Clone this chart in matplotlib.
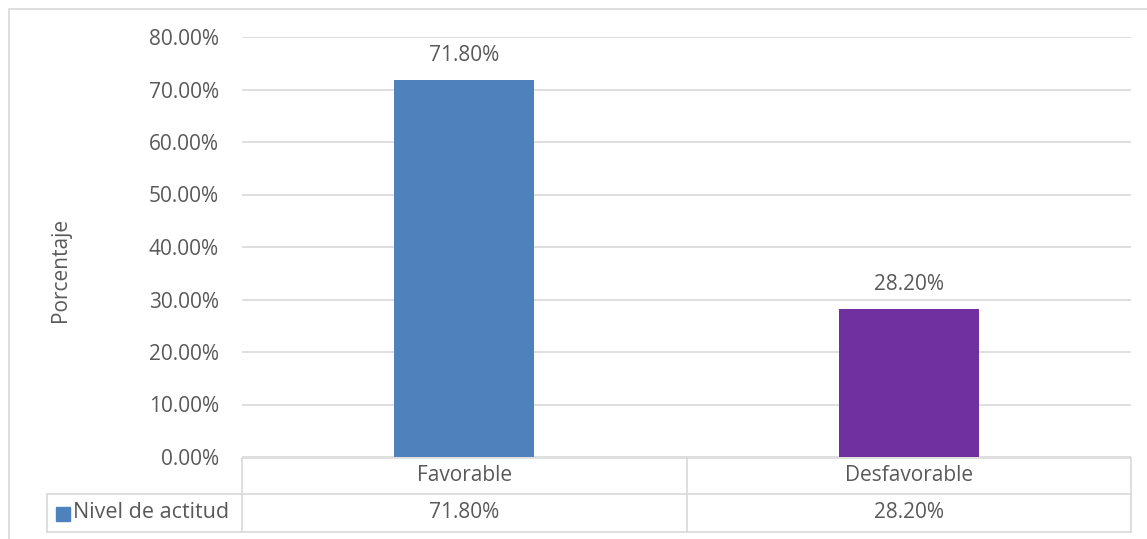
import matplotlib
matplotlib.use("Agg")
import matplotlib.pyplot as plt
from matplotlib.patches import Rectangle
from matplotlib.lines import Line2D
import matplotlib.transforms as mtransforms

categories = ["Favorable", "Desfavorable"]
values = [71.80, 28.20]
series_name = "Nivel de actitud"
bar_colors = ["#4F81BD", "#7030A0"]
yticks = [0, 10, 20, 30, 40, 50, 60, 70, 80]

W, H = 1147, 539
plt.rcParams['font.family'] = ['Open Sans', 'DejaVu Sans']
TXT = "#595959"
GRID = "#D9D9D9"
FS = 15

fig = plt.figure(figsize=(W / 100, H / 100), dpi=100)
fig.patch.set_facecolor("white")

def fx(px):
    return px / W

def fy(py):
    return 1 - py / H

# outer chart border
fig.add_artist(Rectangle((fx(8.5), fy(560)), fx(1160) - fx(8.5), fy(8.5) - fy(560),
                         transform=fig.transFigure, fill=False, edgecolor=GRID, lw=1.2))

ax = fig.add_axes([fx(242), fy(457), fx(1131) - fx(242), fy(37) - fy(457)])
x = list(range(len(categories)))
ax.bar(x, values, width=0.315, color=bar_colors, zorder=3)
ax.set_xlim(-0.5, len(categories) - 0.5)
ax.set_ylim(0, 80)
ax.set_yticks(yticks)
ax.set_yticklabels([f"{v:.2f}%" for v in yticks], color=TXT, fontsize=FS)
ax.tick_params(axis="y", length=0, pad=16.5)
ax.set_xticks([])
ax.grid(axis="y", color=GRID, lw=1.2, zorder=0)
for s in ax.spines.values():
    s.set_visible(False)
ax.set_ylabel("Porcentaje", color=TXT, fontsize=FS)
ax.yaxis.set_label_coords(fx(71), 0.5, transform=fig.transFigure)

for xi, v in zip(x, values):
    ax.annotate(f"{v:.2f}%", (xi, v), xytext=(0, 17.5), textcoords="offset points",
                ha="center", va="center", color=TXT, fontsize=FS)

# data table below the axis
blend = mtransforms.blended_transform_factory(ax.transData, fig.transFigure)
y_top, y_mid, y_bot = fy(457.5), fy(494), fy(532)
lkw = dict(color=GRID, lw=1.2)
fig.add_artist(Line2D([-0.5, 1.5], [y_top, y_top], transform=blend, **lkw))
fig.add_artist(Line2D([fx(47), fx(1131)], [y_mid, y_mid], transform=fig.transFigure, **lkw))
fig.add_artist(Line2D([fx(47), fx(1131)], [y_bot, y_bot], transform=fig.transFigure, **lkw))
fig.add_artist(Line2D([fx(47), fx(47)], [y_mid, y_bot], transform=fig.transFigure, **lkw))
for xb in [-0.5, 0.5, 1.5]:
    fig.add_artist(Line2D([xb, xb], [y_top, y_bot], transform=blend, **lkw))

for xi, c, v in zip(x, categories, values):
    fig.text(xi, (y_top + y_mid) / 2, c, transform=blend, ha="center", va="center",
             color=TXT, fontsize=FS)
    fig.text(xi, (y_mid + y_bot) / 2, f"{v:.2f}%", transform=blend, ha="center", va="center",
             color=TXT, fontsize=FS)

# legend key + series name
fig.add_artist(Rectangle((fx(56), fy(521)), fx(14), fy(507) - fy(521),
                         transform=fig.transFigure, color=bar_colors[0]))
fig.text(fx(73), (y_mid + y_bot) / 2, series_name, ha="left", va="center",
         color=TXT, fontsize=FS + 0.5)

fig.savefig("out.png", dpi=100)
